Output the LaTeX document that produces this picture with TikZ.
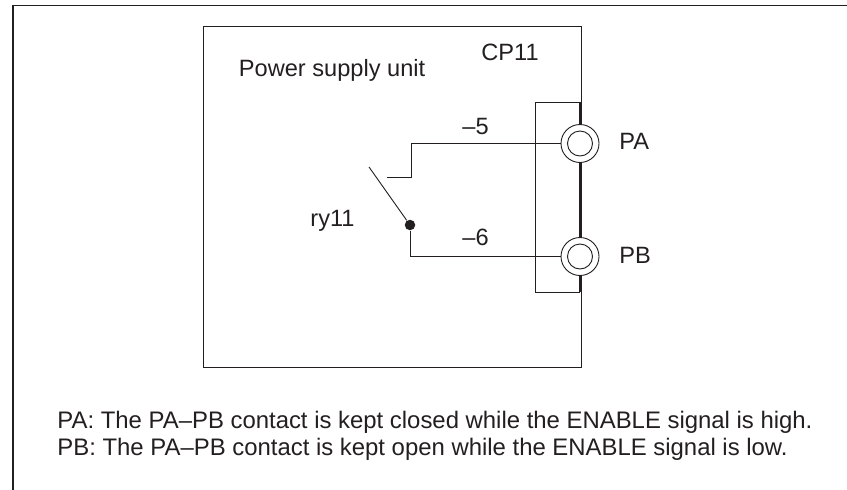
\documentclass[tikz,border=0pt]{standalone}
\usepackage{fontspec}
\setmainfont{Liberation Sans}
\definecolor{ink}{HTML}{231F20}
\begin{document}
\begin{tikzpicture}[x=1pt, y=-1pt, ink, line width=.9pt,
  label/.style={inner sep=0pt, anchor=base west, font=\fontsize{23.6}{28}\selectfont},
  note/.style={label, font=\fontsize{23.9}{28}\selectfont},
  jack/.style={circle, draw, fill=white, inner sep=0pt, minimum size=38pt},
  jackin/.style={circle, draw, inner sep=0pt, minimum size=25pt}]
\useasboundingbox (0,0) rectangle (847,490);
\draw[line width=1.6pt] (13,490)--(13,5.5)--(847,5.5);
\draw (203,26.5) rectangle (581,367);
\draw (580,102)--(535,102)--(535,292)--(580,292);
\draw[line width=1.5pt] (580,102)--(580,292);
\node[jack] (PA) at (580,143.5){};
\node[jack] (PB) at (580,256.5){};
\node[jackin] (PAin) at (PA){};
\node[jackin] (PBin) at (PB){};
\coordinate (stub) at (387,177);
\coordinate (free) at (369,167);
\node[circle, fill, inner sep=0pt, minimum size=10.5pt] (pivot) at (410,225){};
\draw (PA.west)-|(411,177)--(stub);
\draw (pivot)|-(PB.west);
\draw (free)--(pivot);
\node[label] (unit) at (238.5,76.5){Power supply unit};
\node[label] (cp) at (481,60){CP11};
\node[label] (five) at (462,134){–5};
\node[label] (six) at (462,245){–6};
\node[label] (ry) at (310,226){ry11};
\node[label] (pa) at (619,149){PA};
\node[label] (pb) at (619,263.5){PB};
\node[note] (noteA) at (57,428.5){PA: The PA–PB contact is kept closed while the ENABLE signal is high.};
\node[note] (noteB) at (57,455){PB: The PA–PB contact is kept open while the ENABLE signal is low.};
\end{tikzpicture}
\end{document}
